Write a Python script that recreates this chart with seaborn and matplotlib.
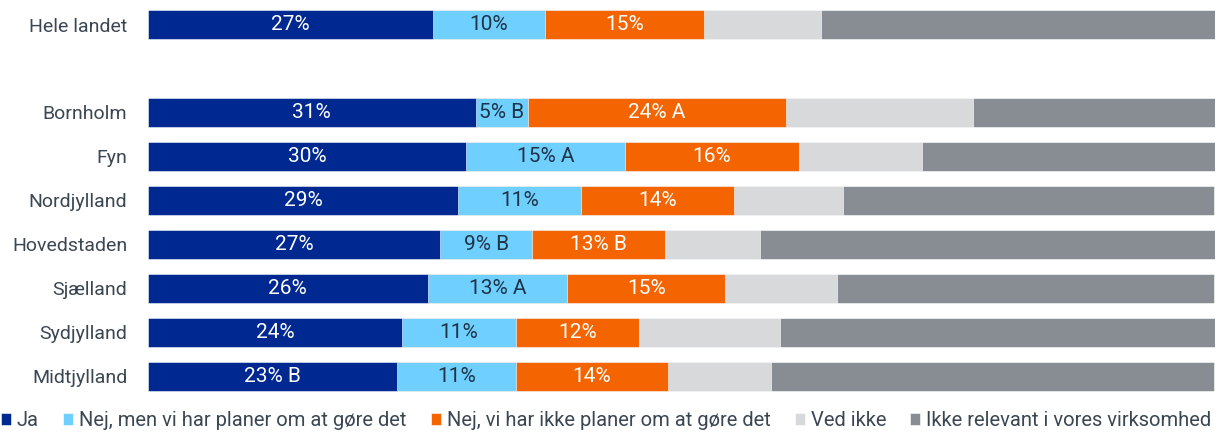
import matplotlib
matplotlib.use("Agg")
import matplotlib.pyplot as plt
import seaborn as sns
import numpy as np
import pandas as pd

# data (share in %)
regions = ["Hele landet", "Bornholm", "Fyn", "Nordjylland", "Hovedstaden",
           "Sjælland", "Sydjylland", "Midtjylland"]
series = ["Ja", "Nej, men vi har planer om at gøre det",
          "Nej, vi har ikke planer om at gøre det", "Ved ikke",
          "Ikke relevant i vores virksomhed"]

ja = [26.7, 30.7, 29.8, 29.1, 27.4, 26.2, 23.8, 23.3]
nej_planer = [10.5, 4.9, 14.9, 11.5, 8.6, 13.1, 10.7, 11.2]
nej_ikke = [14.9, 24.2, 16.3, 14.3, 12.5, 14.8, 11.5, 14.2]
ved_ikke = [11.0, 17.5, 11.5, 10.2, 8.9, 10.5, 13.2, 9.7]
ikke_relevant = [36.9, 22.7, 27.5, 34.8, 42.6, 35.3, 40.8, 41.5]

lbl_ja = ["27%", "31%", "30%", "29%", "27%", "26%", "24%", "23% B"]
lbl_nej_planer = ["10%", "5% B", "15% A", "11%", "9% B", "13% A", "11%", "11%"]
lbl_nej_ikke = ["15%", "24% A", "16%", "14%", "13% B", "15%", "12%", "14%"]

colors = ["#002891", "#6FCFFF", "#F46400", "#D8D9DB", "#878D92"]
text_colors = ["white", "#1F3346", "white"]

values = [ja, nej_planer, nej_ikke, ved_ikke, ikke_relevant]
labels = [lbl_ja, lbl_nej_planer, lbl_nej_ikke]

sns.set_style("white")
plt.rcParams["font.family"] = ["Roboto", "DejaVu Sans"]

fig = plt.figure(figsize=(12.22, 4.33), dpi=100)
ax = fig.add_axes([148 / 1222, 1 - 402 / 433, 1067 / 1222, 402 / 433])

order = [regions[0], " "] + regions[1:]
cum = np.cumsum(np.array(values), axis=0)
df = pd.DataFrame({"region": regions})

# stacked bars: draw cumulative totals from the outermost inward
for i in range(len(series) - 1, -1, -1):
    df["cum"] = cum[i]
    sns.barplot(data=df, x="cum", y="region", order=order, orient="h",
                color=colors[i], width=0.66, saturation=1, ax=ax,
                edgecolor="white", linewidth=0.4, label=series[i])

# segment labels
for i, lbls in enumerate(labels):
    for r, txt in enumerate(lbls):
        start = cum[i][r] - values[i][r]
        ax.text(start + values[i][r] / 2, order.index(regions[r]), txt,
                ha="center", va="center", fontsize=15, color=text_colors[i])

ax.set_xlim(0, 100)
ax.set_ylim(8.59, -0.56)
ax.set_xlabel("")
ax.set_ylabel("")
ax.set_xticks([])
ax.tick_params(axis="y", length=0, pad=15, labelsize=14, labelcolor="#3A4652")
sns.despine(ax=ax, left=True, bottom=True)
if ax.legend_:
    ax.legend_.remove()

handles, hl = ax.get_legend_handles_labels()
handles = handles[::-1]
hl = hl[::-1]
fig.legend(handles, hl, loc="lower center", bbox_to_anchor=(0.496, -0.035),
           ncol=5, frameon=False, fontsize=14.5, handlelength=0.5,
           handleheight=0.5, handletextpad=0.3, columnspacing=1.2,
           labelcolor="#3A4652")

fig.savefig("out.png", dpi=100)
